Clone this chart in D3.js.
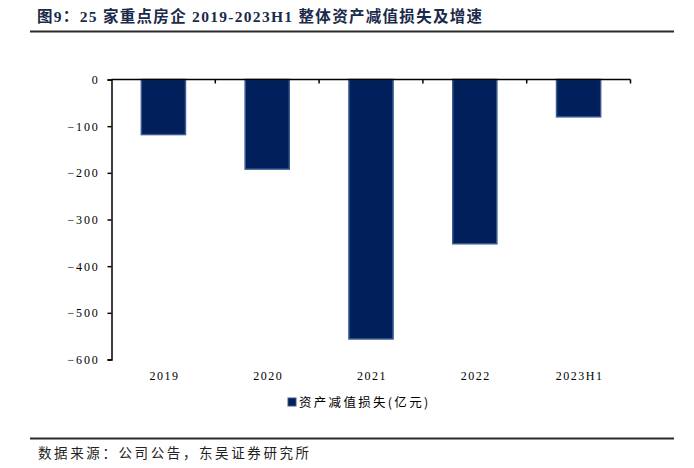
<!DOCTYPE html>
<html><head><meta charset="utf-8">
<script src="https://cdn.jsdelivr.net/npm/d3@7"></script>
<style>body{margin:0;background:#fff}</style>
</head><body>
<script>
const categories = ["2019","2020","2021","2022","2023H1"];
const values = [-118, -192, -556, -352, -80];
const yTicks = [0,-100,-200,-300,-400,-500,-600];
const seriesName = "资产减值损失(亿元)";
const title = "图9：25 家重点房企 2019-2023H1 整体资产减值损失及增速";
const source = "数据来源：公司公告，东吴证券研究所";

const W=694,H=468;
const svg=d3.select("body").append("svg").attr("width",W).attr("height",H);
const serif="'Liberation Serif','Times New Roman',serif";
const cjk="'Noto Sans CJK SC',sans-serif";

svg.append("text").attr("x",37).attr("y",22).attr("font-family",serif+","+cjk)
  .attr("font-weight","bold").attr("font-size",15.5).attr("letter-spacing",1.3).attr("fill","#1a2a4a").text(title);
svg.append("line").attr("x1",30).attr("x2",674).attr("y1",31.5).attr("y2",31.5).attr("stroke","#2a2a2a").attr("stroke-width",2);
svg.append("line").attr("x1",30).attr("x2",674).attr("y1",438.5).attr("y2",438.5).attr("stroke","#2a2a2a").attr("stroke-width",2);
svg.append("text").attr("x",38).attr("y",458).attr("font-family",cjk).attr("font-size",13.5).attr("letter-spacing",2.6).attr("fill","#222").text(source);

const x=d3.scaleBand().domain(categories).range([111.5,630.5]).paddingInner(0.575).paddingOuter(0.2875);
const y=d3.scaleLinear().domain([-600,0]).range([359.5,79.5]);

const xb=d3.scaleBand().domain(categories).range([111.5,630.5]);
// bars
svg.selectAll("rect.bar").data(values).enter().append("rect")
  .attr("x",(d,i)=>x(categories[i])).attr("width",x.bandwidth())
  .attr("y",y(0)).attr("height",d=>y(d)-y(0))
  .attr("fill","#001f5b").attr("stroke","#3a5a90").attr("stroke-width",1.5);

// y axis
const ya=svg.append("g").attr("transform","translate(111.5,0)")
  .call(d3.axisLeft(y).tickValues(yTicks).tickSize(4).tickFormat(d=>d<0?"\u2212"+(-d):d));
ya.select(".domain").attr("stroke","#000").attr("stroke-width",1.5);
ya.selectAll(".tick line").attr("stroke","#000").attr("stroke-width",1.5);
ya.selectAll(".tick text").attr("font-family",serif).attr("font-size",12).attr("letter-spacing",1.8).attr("fill","#000").attr("x",-12);

// x axis at 0 with band-boundary ticks
svg.append("line").attr("x1",111.5).attr("x2",630.5).attr("y1",y(0)).attr("y2",y(0)).attr("stroke","#000").attr("stroke-width",1.5);
categories.forEach((c,i)=>{
  const bx=xb(c)+xb.bandwidth();
  svg.append("line").attr("x1",bx).attr("x2",bx).attr("y1",y(0)).attr("y2",y(0)+4).attr("stroke","#000").attr("stroke-width",1.5);
});
svg.selectAll("text.xl").data(categories).enter().append("text")
  .attr("x",d=>xb(d)+xb.bandwidth()/2+1).attr("y",380).attr("text-anchor","middle")
  .attr("font-family",serif).attr("font-size",12).attr("letter-spacing",1.5).attr("fill","#000").text(d=>d);

// legend
svg.append("rect").attr("x",288).attr("y",398).attr("width",8).attr("height",8).attr("fill","#001f5b").attr("stroke","#3a5a90").attr("stroke-width",1);
svg.append("text").attr("x",299).attr("y",407).attr("font-family",cjk).attr("font-size",12.5).attr("letter-spacing",2.3).attr("fill","#000").text(seriesName);
</script>
</body></html>
